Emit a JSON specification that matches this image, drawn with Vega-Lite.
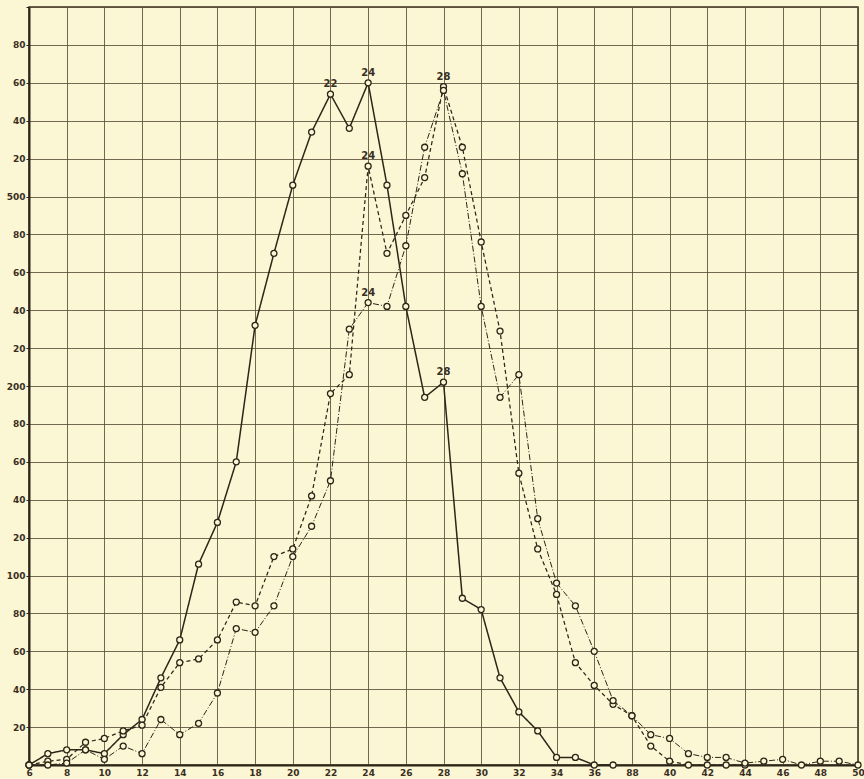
{
  "$schema": "https://vega.github.io/schema/vega-lite/v6.json",
  "autosize": "none",
  "width": 829,
  "height": 758,
  "padding": {"left": 29, "top": 7, "right": 6, "bottom": 14},
  "background": "#fbf7d4",
  "config": {
    "view": {"stroke": "#3a2e1f", "strokeWidth": 1.5, "fill": "#fbf7d4"},
    "axis": {
      "labelFont": "DejaVu Sans",
      "labelFontWeight": "bold",
      "labelFontSize": 9,
      "labelColor": "#3a2e1f",
      "gridColor": "#5a4d38",
      "gridWidth": 1,
      "gridOpacity": 0.85,
      "domainColor": "#2e2418",
      "tickColor": "#2e2418",
      "labelOverlap": false,
      "tickCount": 60,
      "title": null
    }
  },
  "datasets": {
    "series": [
      {"s": "S", "x": 6, "y": 0}, {"s": "S", "x": 7, "y": 6}, {"s": "S", "x": 8, "y": 8}, {"s": "S", "x": 9, "y": 8},
      {"s": "S", "x": 10, "y": 6}, {"s": "S", "x": 11, "y": 16}, {"s": "S", "x": 12, "y": 24}, {"s": "S", "x": 13, "y": 46},
      {"s": "S", "x": 14, "y": 66}, {"s": "S", "x": 15, "y": 106}, {"s": "S", "x": 16, "y": 128}, {"s": "S", "x": 17, "y": 160},
      {"s": "S", "x": 18, "y": 232}, {"s": "S", "x": 19, "y": 270}, {"s": "S", "x": 20, "y": 306}, {"s": "S", "x": 21, "y": 334},
      {"s": "S", "x": 22, "y": 354}, {"s": "S", "x": 23, "y": 336}, {"s": "S", "x": 24, "y": 360}, {"s": "S", "x": 25, "y": 306},
      {"s": "S", "x": 26, "y": 242}, {"s": "S", "x": 27, "y": 194}, {"s": "S", "x": 28, "y": 202}, {"s": "S", "x": 29, "y": 88},
      {"s": "S", "x": 30, "y": 82}, {"s": "S", "x": 31, "y": 46}, {"s": "S", "x": 32, "y": 28}, {"s": "S", "x": 33, "y": 18},
      {"s": "S", "x": 34, "y": 4}, {"s": "S", "x": 35, "y": 4}, {"s": "S", "x": 36, "y": 0}, {"s": "S", "x": 37, "y": 0},

      {"s": "B", "x": 6, "y": 0}, {"s": "B", "x": 7, "y": 2}, {"s": "B", "x": 8, "y": 3}, {"s": "B", "x": 9, "y": 12},
      {"s": "B", "x": 10, "y": 14}, {"s": "B", "x": 11, "y": 18}, {"s": "B", "x": 12, "y": 21}, {"s": "B", "x": 13, "y": 41},
      {"s": "B", "x": 14, "y": 54}, {"s": "B", "x": 15, "y": 56}, {"s": "B", "x": 16, "y": 66}, {"s": "B", "x": 17, "y": 86},
      {"s": "B", "x": 18, "y": 84}, {"s": "B", "x": 19, "y": 110}, {"s": "B", "x": 20, "y": 114}, {"s": "B", "x": 21, "y": 142},
      {"s": "B", "x": 22, "y": 196}, {"s": "B", "x": 23, "y": 206}, {"s": "B", "x": 24, "y": 316}, {"s": "B", "x": 25, "y": 270},
      {"s": "B", "x": 26, "y": 290}, {"s": "B", "x": 27, "y": 310}, {"s": "B", "x": 28, "y": 358}, {"s": "B", "x": 29, "y": 326},
      {"s": "B", "x": 30, "y": 276}, {"s": "B", "x": 31, "y": 229}, {"s": "B", "x": 32, "y": 154}, {"s": "B", "x": 33, "y": 114},
      {"s": "B", "x": 34, "y": 90}, {"s": "B", "x": 35, "y": 54}, {"s": "B", "x": 36, "y": 42}, {"s": "B", "x": 37, "y": 32},
      {"s": "B", "x": 38, "y": 26}, {"s": "B", "x": 39, "y": 10}, {"s": "B", "x": 40, "y": 2}, {"s": "B", "x": 41, "y": 0},
      {"s": "B", "x": 42, "y": 0}, {"s": "B", "x": 43, "y": 0}, {"s": "B", "x": 44, "y": 0},

      {"s": "C", "x": 6, "y": 0}, {"s": "C", "x": 7, "y": 0}, {"s": "C", "x": 8, "y": 1}, {"s": "C", "x": 9, "y": 8},
      {"s": "C", "x": 10, "y": 3}, {"s": "C", "x": 11, "y": 10}, {"s": "C", "x": 12, "y": 6}, {"s": "C", "x": 13, "y": 24},
      {"s": "C", "x": 14, "y": 16}, {"s": "C", "x": 15, "y": 22}, {"s": "C", "x": 16, "y": 38}, {"s": "C", "x": 17, "y": 72},
      {"s": "C", "x": 18, "y": 70}, {"s": "C", "x": 19, "y": 84}, {"s": "C", "x": 20, "y": 110}, {"s": "C", "x": 21, "y": 126},
      {"s": "C", "x": 22, "y": 150}, {"s": "C", "x": 23, "y": 230}, {"s": "C", "x": 24, "y": 244}, {"s": "C", "x": 25, "y": 242},
      {"s": "C", "x": 26, "y": 274}, {"s": "C", "x": 27, "y": 326}, {"s": "C", "x": 28, "y": 356}, {"s": "C", "x": 29, "y": 312},
      {"s": "C", "x": 30, "y": 242}, {"s": "C", "x": 31, "y": 194}, {"s": "C", "x": 32, "y": 206}, {"s": "C", "x": 33, "y": 130},
      {"s": "C", "x": 34, "y": 96}, {"s": "C", "x": 35, "y": 84}, {"s": "C", "x": 36, "y": 60}, {"s": "C", "x": 37, "y": 34},
      {"s": "C", "x": 38, "y": 26}, {"s": "C", "x": 39, "y": 16}, {"s": "C", "x": 40, "y": 14}, {"s": "C", "x": 41, "y": 6},
      {"s": "C", "x": 42, "y": 4}, {"s": "C", "x": 43, "y": 4}, {"s": "C", "x": 44, "y": 1}, {"s": "C", "x": 45, "y": 2},
      {"s": "C", "x": 46, "y": 3}, {"s": "C", "x": 47, "y": 0}, {"s": "C", "x": 48, "y": 2}, {"s": "C", "x": 49, "y": 2},
      {"s": "C", "x": 50, "y": 0}
    ],
    "labels": [
      {"x": 22, "y": 354, "t": "22"},
      {"x": 24, "y": 360, "t": "24"},
      {"x": 28, "y": 358, "t": "28"},
      {"x": 24, "y": 316, "t": "24"},
      {"x": 24, "y": 244, "t": "24"},
      {"x": 28, "y": 202, "t": "28"}
    ]
  },
  "layer": [
    {
      "data": {"name": "series"},
      "mark": {"type": "line", "color": "#2e2418"},
      "encoding": {
        "x": {
          "field": "x", "type": "quantitative",
          "scale": {"domain": [6, 50], "nice": false, "zero": false},
          "axis": {
            "values": [6, 8, 10, 12, 14, 16, 18, 20, 22, 24, 26, 28, 30, 32, 34, 36, 38, 40, 42, 44, 46, 48, 50],
            "tickCount": 60,
            "labelExpr": "datum.value == 38 ? '88' : datum.label",
            "tickSize": 0,
            "labelPadding": 3,
            "domainWidth": 2,
            "labelFlush": false
          }
        },
        "y": {
          "field": "y", "type": "quantitative",
          "scale": {"domain": [0, 400], "nice": false},
          "axis": {
            "values": [0, 20, 40, 60, 80, 100, 120, 140, 160, 180, 200, 220, 240, 260, 280, 300, 320, 340, 360, 380, 400],
            "tickCount": 60,
            "labelExpr": "datum.value == 0 || datum.value == 400 ? '' : (datum.value == 300 ? '500' : (datum.value % 100 == 0 ? '' + datum.value : '' + (datum.value % 100)))",
            "tickSize": 3,
            "labelPadding": 1,
            "domainWidth": 2
          }
        },
        "strokeDash": {
          "field": "s", "type": "nominal",
          "scale": {"domain": ["S", "B", "C"], "range": [[1, 0], [4, 3], [6, 2, 1, 2]]},
          "legend": null
        },
        "strokeWidth": {
          "field": "s", "type": "nominal",
          "scale": {"domain": ["S", "B", "C"], "range": [1.5, 1, 1]},
          "legend": null
        }
      }
    },
    {
      "data": {"name": "series"},
      "mark": {"type": "point", "shape": "circle", "filled": true, "fill": "#fbf7d4", "stroke": "#2e2418", "strokeWidth": 1.3, "size": 36, "opacity": 1},
      "encoding": {
        "x": {"field": "x", "type": "quantitative"},
        "y": {"field": "y", "type": "quantitative"}
      }
    },
    {
      "data": {"name": "labels"},
      "mark": {"type": "text", "font": "DejaVu Sans", "fontWeight": "bold", "fontSize": 10, "color": "#3a2e1f", "baseline": "bottom", "dy": -5},
      "encoding": {
        "x": {"field": "x", "type": "quantitative"},
        "y": {"field": "y", "type": "quantitative"},
        "text": {"field": "t", "type": "nominal"}
      }
    }
  ]
}
